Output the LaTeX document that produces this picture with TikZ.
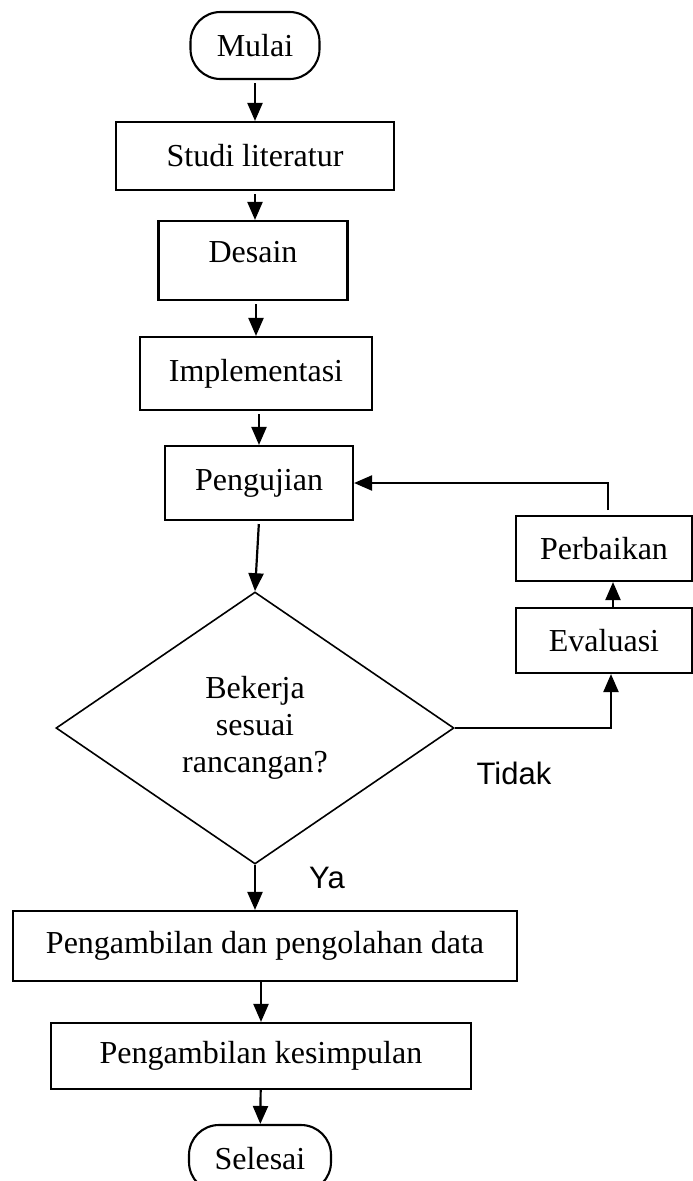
\documentclass[tikz,border=0pt]{standalone}
\usepackage{fontspec}
\setmainfont{Liberation Serif}
\newfontfamily\labelfont{Liberation Sans}
\usetikzlibrary{arrows.meta}
\usetikzlibrary{shapes}

\begin{document}
\begin{tikzpicture}[x=1pt, y=-1pt, line width=2.1pt,
        terminal_style/.style={draw, rounded corners=30pt, inner sep=0pt, font=\fontsize{32}{37}\selectfont},
        process_style/.style={draw, inner sep=0pt, font=\fontsize{32}{37}\selectfont},
        decision_style/.style={diamond, draw, line width=1.6pt, aspect=1.46, inner sep=0pt, align=center, font=\fontsize{32}{37}\selectfont},
        answer_style/.style={font=\labelfont\fontsize{31}{36}\selectfont},
        edge_style/.style={draw=black, line width=2.2pt, shorten <=3pt, -{Triangle[length=18pt,width=15pt]}}]

        \useasboundingbox (0,0) rectangle (693,1181);

        \node [terminal_style, minimum width=129pt, minimum height=67pt](mulai) at (255,45.5) {Mulai};

        \node [process_style, minimum width=278pt, minimum height=68pt](studi) at (255,156) {Studi literatur};

        \node [process_style, minimum width=189pt, minimum height=79pt, text height=21pt, text depth=17pt](desain) at (253,260.5) {Desain};

        \node [process_style, minimum width=232pt, minimum height=73pt](impl) at (256,373.5) {Implementasi};

        \node [process_style, minimum width=188pt, minimum height=74pt](uji) at (259,483) {Pengujian};

        \node [decision_style, minimum width=398pt, minimum height=272pt](cek) at (255,728) {Bekerja\\sesuai\\rancangan?};

        \node [process_style, minimum width=176pt, minimum height=65pt](perbaikan) at (604,548.5) {Perbaikan};

        \node [process_style, minimum width=176pt, minimum height=65pt](evaluasi) at (604,640.5) {Evaluasi};

        \node [process_style, minimum width=504pt, minimum height=70pt](olah) at (265,946) {Pengambilan dan pengolahan data};

        \node [process_style, minimum width=420pt, minimum height=66pt](simpul) at (261,1056) {Pengambilan kesimpulan};

        \node [terminal_style, minimum width=142pt, minimum height=67pt](selesai) at (260,1158.5) {Selesai};

        \node [answer_style](tidak) at (514,773) {Tidak};

        \node [answer_style](ya) at (327,878) {Ya};

        \coordinate (balik) at (608,510);

        \draw [edge_style] (mulai) -- (studi);

        \draw [edge_style] (studi) -- (desain.north -| studi.south);

        \draw [edge_style] (desain.south -| impl.north) -- (impl);

        \draw [edge_style] (impl.south -| uji.north) -- (uji);

        \draw [edge_style] (uji.south) -- (cek.north);

        \draw [edge_style, shorten <=0pt] (cek.east) -| ([xshift=7pt]evaluasi.south);

        \draw [edge_style, shorten <=0pt] ([xshift=9pt]evaluasi.north) -- ([xshift=9pt]perbaikan.south);

        \draw [edge_style, shorten <=0pt] (balik) |- (uji.east);

        \draw [edge_style, shorten <=0pt] (cek.south) -- (olah.north -| cek.south);

        \draw [edge_style, shorten <=0pt] (olah.south -| simpul.north) -- (simpul);

        \draw [edge_style, shorten <=0pt] (simpul) -- (selesai);

\end{tikzpicture}
\end{document}
